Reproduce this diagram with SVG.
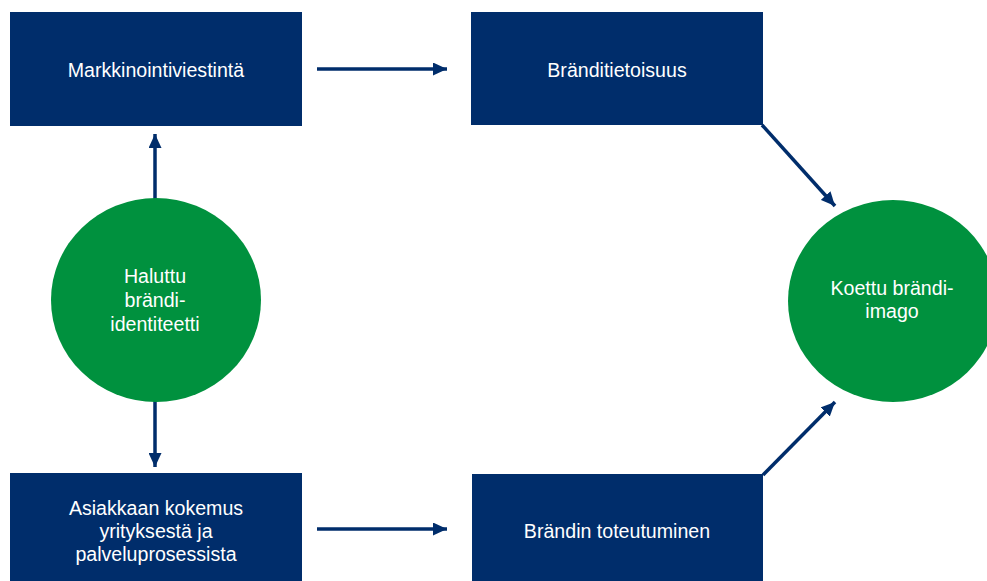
<svg xmlns="http://www.w3.org/2000/svg" width="987" height="581" viewBox="0 0 987 581">
<defs>
<style>
.box{fill:#002D6B}
.circ{fill:#00913E}
.t{font-family:"Liberation Sans",Arial,sans-serif;font-size:19.6px;fill:#FFFFFF;text-anchor:middle}
.c{stroke:#002D6B;stroke-width:3.5;fill:none;marker-end:url(#ah)}
</style>
<marker id="ah" markerUnits="userSpaceOnUse" markerWidth="14" markerHeight="13" refX="14" refY="6.5" orient="auto">
<path d="M0,0 L14,6.5 L0,13 Z" fill="#002D6B"/>
</marker>
</defs>
<rect width="987" height="581" fill="#FFFFFF"/>
<g id="connectors">
<line class="c" x1="317" y1="69" x2="447" y2="69"/>
<line class="c" x1="317" y1="529" x2="447" y2="529"/>
<line class="c" x1="155" y1="199" x2="155" y2="134"/>
<line class="c" x1="155" y1="401" x2="155" y2="467"/>
<line class="c" x1="762" y1="125" x2="835" y2="206"/>
<line class="c" x1="763" y1="475" x2="835" y2="402"/>
</g>
<g id="markkinointiviestinta">
<rect class="box" x="10" y="12" width="292" height="114"/>
<text class="t" x="156" y="77">Markkinointiviestintä</text>
</g>
<g id="branditietoisuus">
<rect class="box" x="471" y="12" width="292" height="113"/>
<text class="t" x="617" y="77">Bränditietoisuus</text>
</g>
<g id="haluttu">
<ellipse class="circ" cx="156" cy="300" rx="105" ry="102"/>
<text class="t" x="155" y="283">Haluttu</text>
<text class="t" x="155" y="307">brändi-</text>
<text class="t" x="155" y="331">identiteetti</text>
</g>
<g id="koettu">
<ellipse class="circ" cx="893" cy="301" rx="105" ry="101"/>
<text class="t" x="892" y="295">Koettu brändi-</text>
<text class="t" x="892" y="318">imago</text>
</g>
<g id="asiakkaan">
<rect class="box" x="10" y="473" width="292" height="108"/>
<text class="t" x="156" y="515">Asiakkaan kokemus</text>
<text class="t" x="156" y="538">yrityksestä ja</text>
<text class="t" x="156" y="561">palveluprosessista</text>
</g>
<g id="toteutuminen">
<rect class="box" x="472" y="474" width="291" height="107"/>
<text class="t" x="617" y="538">Brändin toteutuminen</text>
</g>
</svg>
